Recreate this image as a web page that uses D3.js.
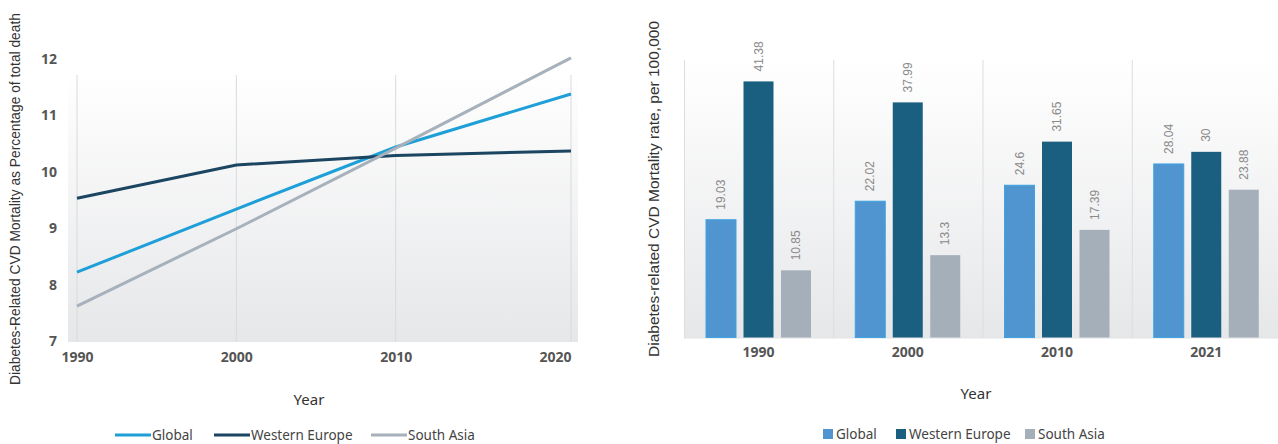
<!DOCTYPE html>
<html>
<head>
<meta charset="utf-8">
<script src="https://cdn.jsdelivr.net/npm/d3@7"></script>
<style>
  body { margin: 0; background: #fff; }
  svg { display: block; }
  .tick text { font-family: "Open Sans", sans-serif; font-weight: 700; font-size: 14px; fill: #555; }
</style>
</head>
<body>
<svg id="chart" width="1278" height="444"></svg>
<script>
// Left chart: percentage of total death
const lineYears = [1990, 2000, 2010, 2021];
const lineTicksX = [1990, 2000, 2010, 2020];
const lineTicksY = [7, 8, 9, 10, 11, 12];
const globalPct = [8.22, 9.34, 10.44, 11.38];
const westEuropePct = [9.53, 10.12, 10.29, 10.37];
const southAsiaPct = [7.62, 8.99, 10.42, 12.02];

// Right chart: rate per 100,000
const barYears = ["1990", "2000", "2010", "2021"];
const seriesNames = ["Global", "Western Europe", "South Asia"];
const globalRate = [19.03, 22.02, 24.6, 28.04];
const westEuropeRate = [41.38, 37.99, 31.65, 30];
const southAsiaRate = [10.85, 13.3, 17.39, 23.88];

const lineColors = ["#1e9fd8", "#1b4560", "#a7b1bc"];
const barColors = ["#5094d0", "#1b5f80", "#a4afba"];

const svg = d3.select("#chart");
const defs = svg.append("defs");
const grad = defs.append("linearGradient").attr("id", "bg").attr("x1", 0).attr("y1", 0).attr("x2", 0).attr("y2", 1);
grad.append("stop").attr("offset", "0%").attr("stop-color", "#ffffff");
grad.append("stop").attr("offset", "100%").attr("stop-color", "#e6e7e9");

// ---------- left line chart ----------
const x1 = d3.scaleLinear().domain([1990, 2021]).range([77, 571]);
const y1 = d3.scaleLinear().domain([7, 12]).range([341, 59]);

svg.append("rect")
  .attr("x", 68).attr("y", 70)
  .attr("width", 510).attr("height", 272)
  .attr("fill", "url(#bg)");

svg.append("g").selectAll("line")
  .data(lineYears)
  .enter().append("line")
  .attr("x1", d => x1(d)).attr("x2", d => x1(d))
  .attr("y1", 75).attr("y2", 342)
  .attr("stroke", "#d9dadd").attr("stroke-width", 1);

const xAxis1 = svg.append("g")
  .attr("transform", "translate(0,342)")
  .call(d3.axisBottom(x1).tickValues(lineTicksX).tickFormat(d3.format("d")).tickSize(0).tickPadding(10));
xAxis1.select(".domain").remove();

const yAxis1 = svg.append("g")
  .attr("transform", "translate(59,0)")
  .call(d3.axisLeft(y1).tickValues(lineTicksY).tickFormat(d3.format("d")).tickSize(0).tickPadding(2));
yAxis1.select(".domain").remove();

const lineSeries = [globalPct, westEuropePct, southAsiaPct];
const line = d3.line().x((d, i) => x1(lineYears[i])).y(d => y1(d));
svg.append("g").selectAll("path")
  .data(lineSeries)
  .enter().append("path")
  .attr("d", d => line(d))
  .attr("fill", "none")
  .attr("stroke", (d, i) => lineColors[i])
  .attr("stroke-width", 3);

svg.append("text")
  .attr("transform", "translate(20,199) rotate(-90)")
  .attr("text-anchor", "middle")
  .style("font-family", "Liberation Sans, Arial, sans-serif")
  .style("font-size", "13.8px")
  .attr("fill", "#333")
  .text("Diabetes-Related CVD Mortality as Percentage of total death");

svg.append("text")
  .attr("x", 309).attr("y", 405)
  .attr("text-anchor", "middle")
  .style("font-family", "Noto Sans, sans-serif")
  .style("font-size", "15px")
  .attr("fill", "#333")
  .text("Year");

// left legend
const legX1 = [115, 214, 371];
const leg1 = svg.append("g").selectAll("g")
  .data(seriesNames)
  .enter().append("g")
  .attr("transform", (d, i) => `translate(${legX1[i]},435)`);
leg1.append("line")
  .attr("x1", 0).attr("x2", 36)
  .attr("stroke", (d, i) => lineColors[i]).attr("stroke-width", 3);
leg1.append("text")
  .attr("x", 37).attr("dy", "0.35em")
  .style("font-family", "Noto Sans, sans-serif")
  .style("font-size", "13.5px")
  .attr("fill", "#444")
  .text(d => d);

// ---------- right bar chart ----------
const x2 = d3.scaleBand().domain(barYears).range([684, 1281]);
const xs = d3.scaleBand().domain(seriesNames).range([22, 127]).paddingInner(0.2);
const y2 = d3.scaleLinear().domain([0, 45]).range([337.5, 59]);

svg.append("rect")
  .attr("x", 684).attr("y", 59)
  .attr("width", 597).attr("height", 279)
  .attr("fill", "url(#bg)");

svg.append("g").selectAll("line")
  .data(barYears)
  .enter().append("line")
  .attr("x1", d => x2(d) + 0.5).attr("x2", d => x2(d) + 0.5)
  .attr("y1", 60).attr("y2", 338)
  .attr("stroke", "#dcdde0").attr("stroke-width", 1);

svg.append("line")
  .attr("x1", 684).attr("x2", 1281)
  .attr("y1", 338).attr("y2", 338)
  .attr("stroke", "#e2e3e5");

const xAxis2 = svg.append("g")
  .attr("transform", "translate(0,338)")
  .call(d3.axisBottom(x2).tickSize(0).tickPadding(9));
xAxis2.select(".domain").remove();

const barSeries = [globalRate, westEuropeRate, southAsiaRate];
const barData = [];
barSeries.forEach((vals, s) => {
  vals.forEach((v, i) => barData.push({ year: barYears[i], name: seriesNames[s], s: s, v: v }));
});

svg.append("g").selectAll("rect")
  .data(barData)
  .enter().append("rect")
  .attr("x", d => x2(d.year) + xs(d.name))
  .attr("y", d => y2(d.v))
  .attr("width", xs.bandwidth())
  .attr("height", d => y2(0) - y2(d.v))
  .attr("fill", d => barColors[d.s])
  .attr("stroke", d => d.s === 0 ? "#3ea3e2" : "none")
  .attr("stroke-width", 1);

svg.append("g").selectAll("text")
  .data(barData)
  .enter().append("text")
  .attr("transform", d => `translate(${x2(d.year) + xs(d.name) + xs.bandwidth() / 2 + 4},${y2(d.v) - 10}) rotate(-90)`)
  .attr("text-anchor", "start")
  .style("font-family", "Liberation Sans, Arial, sans-serif")
  .style("font-size", "12px")
  .attr("fill", "#8a8a8a")
  .text(d => d.v);

svg.append("text")
  .attr("transform", "translate(659,189) rotate(-90)")
  .attr("text-anchor", "middle")
  .style("font-family", "Liberation Sans, Arial, sans-serif")
  .style("font-size", "15.5px")
  .attr("fill", "#333")
  .text("Diabetes-related CVD Mortality rate, per 100,000");

svg.append("text")
  .attr("x", 976).attr("y", 399)
  .attr("text-anchor", "middle")
  .style("font-family", "Noto Sans, sans-serif")
  .style("font-size", "15px")
  .attr("fill", "#333")
  .text("Year");

// right legend
const legX2 = [823, 896, 1025];
const leg2 = svg.append("g").selectAll("g")
  .data(seriesNames)
  .enter().append("g")
  .attr("transform", (d, i) => `translate(${legX2[i]},434)`);
leg2.append("rect")
  .attr("x", 0).attr("y", -5)
  .attr("width", 10).attr("height", 10)
  .attr("fill", (d, i) => barColors[i]);
leg2.append("text")
  .attr("x", 13).attr("dy", "0.35em")
  .style("font-family", "Noto Sans, sans-serif")
  .style("font-size", "13.5px")
  .attr("fill", "#444")
  .text(d => d);
</script>
</body>
</html>
